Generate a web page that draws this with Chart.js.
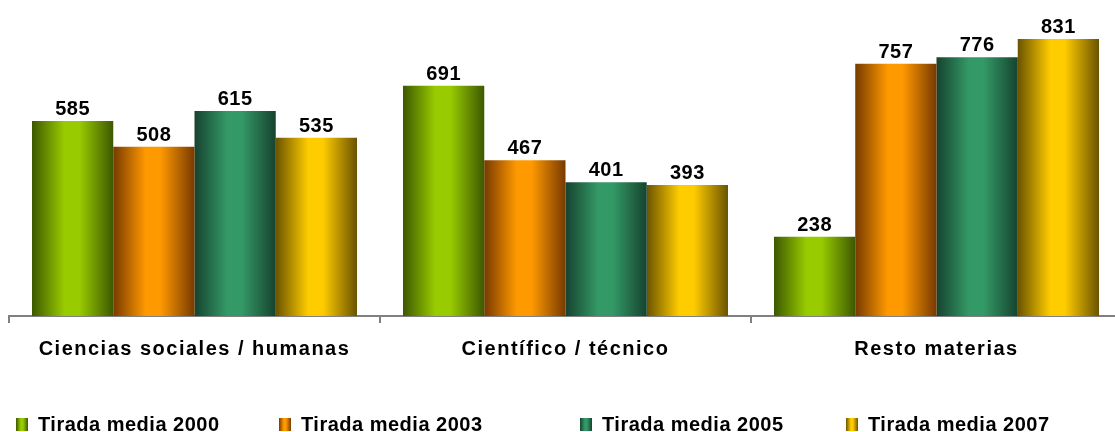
<!DOCTYPE html>
<html>
<head>
<meta charset="utf-8">
<script src="https://cdn.jsdelivr.net/npm/chart.js@4"></script>
<style>
  html, body { margin: 0; padding: 0; background: #fff; overflow: hidden; }
  #wrap { position: relative; width: 1130px; height: 432px; }
</style>
</head>
<body>
<div id="wrap"><canvas id="chart"></canvas></div>
<script>
const categories = ['Ciencias sociales / humanas', 'Científico / técnico', 'Resto materias'];
const seriesNames = ['Tirada media 2000', 'Tirada media 2003', 'Tirada media 2005', 'Tirada media 2007'];
const media2000 = [585, 691, 238];
const media2003 = [508, 467, 757];
const media2005 = [615, 401, 776];
const media2007 = [535, 393, 831];
const yMax = 900;

// dark edge / bright centre for the cylinder look
const shades = [
  ['#3d5800', '#99cc00'],
  ['#783a00', '#ff9900'],
  ['#16432f', '#339966'],
  ['#6a5300', '#ffcc00']
];
const catPct = 0.876;
const FONT = '"Liberation Sans", Arial, sans-serif';

function barGradient(ctx, x0, x1, i) {
  const g = ctx.createLinearGradient(x0, 0, x1, 0);
  const [dark, light] = shades[i];
  g.addColorStop(0, dark);
  g.addColorStop(0.4, light);
  g.addColorStop(0.58, light);
  g.addColorStop(1, dark);
  return g;
}

function barFill(c) {
  const xs = c.chart.scales.x;
  if (!xs || c.type !== 'data') return shades[c.datasetIndex][1];
  const step = xs.width / categories.length;
  const size = step * catPct;
  const w = size / seriesNames.length;
  const x0 = xs.getPixelForValue(c.dataIndex) - size / 2 + c.datasetIndex * w;
  if (!isFinite(x0) || !isFinite(w) || w <= 0) return shades[c.datasetIndex][1];
  return barGradient(c.chart.ctx, x0, x0 + w, c.datasetIndex);
}

// letter spacing for axis labels, value labels above bars, and the legend
const textPlugin = {
  id: 'textPlugin',
  beforeDraw(chart) {
    chart.ctx.letterSpacing = '1.5px';
  },
  afterDatasetsDraw(chart) {
    const ctx = chart.ctx;
    ctx.save();
    ctx.letterSpacing = '0.5px';
    ctx.font = 'bold 20px ' + FONT;
    ctx.fillStyle = '#000';
    ctx.textAlign = 'center';
    ctx.textBaseline = 'alphabetic';
    chart.data.datasets.forEach((ds, di) => {
      chart.getDatasetMeta(di).data.forEach((el, i) => {
        ctx.fillText(String(ds.data[i]), el.x, el.y - 6);
      });
    });
    ctx.restore();
  },
  afterDraw(chart) {
    const ctx = chart.ctx;
    const xs = [16, 279, 580, 846];
    ctx.save();
    ctx.letterSpacing = '0.5px';
    ctx.font = 'bold 20px ' + FONT;
    ctx.textAlign = 'left';
    ctx.textBaseline = 'alphabetic';
    seriesNames.forEach((name, i) => {
      ctx.fillStyle = barGradient(ctx, xs[i], xs[i] + 12, i);
      ctx.fillRect(xs[i], 418, 12, 13);
      ctx.fillStyle = '#000';
      ctx.fillText(name, xs[i] + 22, 431);
    });
    ctx.restore();
  }
};

const seriesData = [media2000, media2003, media2005, media2007];

new Chart(document.getElementById('chart'), {
  type: 'bar',
  data: {
    labels: categories,
    datasets: seriesNames.map((name, i) => ({
      label: name,
      data: seriesData[i],
      backgroundColor: barFill,
      borderWidth: 0,
      categoryPercentage: catPct,
      barPercentage: 1
    }))
  },
  options: {
    responsive: true,
    maintainAspectRatio: false,
    animation: false,
    layout: { padding: { top: 16, left: 9, right: 8, bottom: 57 } },
    plugins: {
      legend: { display: false },
      tooltip: { enabled: false }
    },
    scales: {
      x: {
        grid: { display: true, drawOnChartArea: false, drawTicks: true, tickLength: 7, color: '#808080', lineWidth: 2 },
        border: { display: true, color: '#808080', width: 2 },
        ticks: { color: '#000', padding: 14, font: { family: FONT, size: 20, weight: 'bold' } }
      },
      y: {
        display: false,
        min: 0,
        max: yMax
      }
    }
  },
  plugins: [textPlugin]
});
</script>
</body>
</html>
